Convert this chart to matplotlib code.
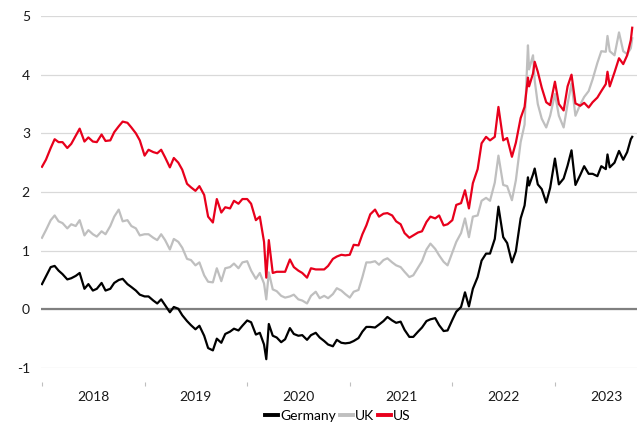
import matplotlib
matplotlib.use("Agg")
import matplotlib.pyplot as plt
import matplotlib.ticker as mticker
import pandas as pd

plt.rcParams['font.family'] = ['Lato', 'DejaVu Sans']
plt.rcParams['axes.unicode_minus'] = False

# ---------------- data (10-year government bond yields, %) ----------------
dates = [
    # 2018
    "2018-01-01", "2018-01-15", "2018-02-01", "2018-02-15", "2018-03-01", "2018-03-15",
    "2018-04-01", "2018-04-15", "2018-05-01", "2018-05-15", "2018-06-01", "2018-06-15",
    "2018-07-01", "2018-07-15", "2018-08-01", "2018-08-15", "2018-09-01", "2018-09-15",
    "2018-10-01", "2018-10-15", "2018-11-01", "2018-11-15", "2018-12-01", "2018-12-15",
    # 2019
    "2019-01-01", "2019-01-15", "2019-02-01", "2019-02-15", "2019-03-01", "2019-03-15",
    "2019-04-01", "2019-04-15", "2019-05-01", "2019-05-15", "2019-06-01", "2019-06-15",
    "2019-07-01", "2019-07-15", "2019-08-01", "2019-08-15", "2019-09-01", "2019-09-15",
    "2019-10-01", "2019-10-15", "2019-11-01", "2019-11-15", "2019-12-01", "2019-12-15",
    # 2020
    "2020-01-01", "2020-01-15", "2020-02-01", "2020-02-15", "2020-03-01", "2020-03-09",
    "2020-03-18", "2020-04-01", "2020-04-15", "2020-05-01", "2020-05-15", "2020-06-01",
    "2020-06-15", "2020-07-01", "2020-07-15", "2020-08-01", "2020-08-15", "2020-09-01",
    "2020-09-15", "2020-10-01", "2020-10-15", "2020-11-01", "2020-11-15", "2020-12-01",
    "2020-12-15",
    # 2021
    "2021-01-01", "2021-01-15", "2021-02-01", "2021-02-15", "2021-03-01", "2021-03-15",
    "2021-04-01", "2021-04-15", "2021-05-01", "2021-05-15", "2021-06-01", "2021-06-15",
    "2021-07-01", "2021-07-15", "2021-08-01", "2021-08-15", "2021-09-01", "2021-09-15",
    "2021-10-01", "2021-10-15", "2021-11-01", "2021-11-15", "2021-12-01", "2021-12-15",
    # 2022
    "2022-01-01", "2022-01-15", "2022-02-01", "2022-02-15", "2022-03-01", "2022-03-15",
    "2022-04-01", "2022-04-15", "2022-05-01", "2022-05-15", "2022-06-01", "2022-06-14",
    "2022-07-01", "2022-07-15", "2022-08-01", "2022-08-15", "2022-09-01", "2022-09-15",
    "2022-09-27", "2022-10-01", "2022-10-15", "2022-10-21", "2022-11-01", "2022-11-15",
    "2022-12-01", "2022-12-15",
    # 2023
    "2023-01-01", "2023-01-15", "2023-02-01", "2023-02-15", "2023-03-01", "2023-03-15",
    "2023-04-01", "2023-04-15", "2023-05-01", "2023-05-15", "2023-06-01", "2023-06-15",
    "2023-07-01", "2023-07-07", "2023-07-15", "2023-08-01", "2023-08-17", "2023-09-01",
    "2023-09-15", "2023-09-28", "2023-10-03",
]

germany = [
    0.43, 0.56, 0.72, 0.74, 0.66, 0.60, 0.51, 0.53, 0.57, 0.62, 0.35, 0.43,
    0.32, 0.35, 0.45, 0.32, 0.35, 0.45, 0.50, 0.52, 0.43, 0.38, 0.32, 0.25,
    0.22, 0.22, 0.15, 0.10, 0.17, 0.07, -0.05, 0.04, 0.01, -0.10, -0.20, -0.27,
    -0.34, -0.28, -0.45, -0.66, -0.70, -0.50, -0.57, -0.42, -0.38, -0.33, -0.36, -0.28,
    -0.19, -0.22, -0.43, -0.40, -0.60, -0.85, -0.25, -0.45, -0.48, -0.56, -0.51, -0.32,
    -0.42, -0.45, -0.44, -0.52, -0.44, -0.40, -0.48, -0.54, -0.60, -0.63, -0.52, -0.57,
    -0.58,
    -0.57, -0.54, -0.49, -0.38, -0.30, -0.30, -0.31, -0.26, -0.20, -0.13, -0.19, -0.23,
    -0.21, -0.35, -0.47, -0.47, -0.38, -0.31, -0.20, -0.17, -0.15, -0.27, -0.37, -0.36,
    -0.18, -0.04, 0.04, 0.29, 0.05, 0.35, 0.55, 0.83, 0.95, 0.95, 1.20, 1.75,
    1.23, 1.13, 0.80, 0.99, 1.55, 1.77, 2.25, 2.11, 2.30, 2.40, 2.13, 2.05,
    1.82, 2.07,
    2.57, 2.13, 2.23, 2.45, 2.71, 2.12, 2.29, 2.44, 2.31, 2.31, 2.27, 2.44,
    2.39, 2.64, 2.42, 2.50, 2.70, 2.55, 2.68, 2.90, 2.94,
]

uk = [
    1.22, 1.35, 1.52, 1.60, 1.50, 1.47, 1.38, 1.45, 1.42, 1.52, 1.26, 1.35,
    1.28, 1.24, 1.33, 1.28, 1.42, 1.58, 1.70, 1.50, 1.52, 1.42, 1.38, 1.26,
    1.28, 1.28, 1.22, 1.18, 1.28, 1.18, 1.02, 1.20, 1.15, 1.05, 0.86, 0.84,
    0.75, 0.80, 0.58, 0.47, 0.46, 0.70, 0.48, 0.70, 0.72, 0.78, 0.70, 0.80,
    0.82, 0.66, 0.52, 0.62, 0.44, 0.17, 0.63, 0.34, 0.31, 0.23, 0.20, 0.22,
    0.25, 0.17, 0.15, 0.10, 0.23, 0.30, 0.19, 0.23, 0.19, 0.26, 0.36, 0.32,
    0.26,
    0.20, 0.30, 0.33, 0.55, 0.80, 0.80, 0.82, 0.76, 0.84, 0.87, 0.80, 0.75,
    0.72, 0.64, 0.55, 0.58, 0.71, 0.82, 1.02, 1.12, 1.03, 0.92, 0.81, 0.75,
    0.97, 1.15, 1.30, 1.55, 1.23, 1.58, 1.60, 1.85, 1.90, 1.85, 2.16, 2.62,
    2.12, 2.10, 1.86, 2.20, 2.85, 3.15, 4.50, 4.09, 4.33, 3.90, 3.50, 3.25,
    3.10, 3.30,
    3.67, 3.30, 3.10, 3.50, 3.85, 3.30, 3.49, 3.62, 3.72, 3.92, 4.20, 4.40,
    4.39, 4.66, 4.40, 4.33, 4.72, 4.40, 4.35, 4.45, 4.62,
]

us = [
    2.43, 2.55, 2.75, 2.90, 2.85, 2.85, 2.75, 2.82, 2.96, 3.08, 2.86, 2.93,
    2.86, 2.85, 2.98, 2.87, 2.88, 3.02, 3.12, 3.20, 3.18, 3.10, 3.00, 2.88,
    2.62, 2.72, 2.68, 2.66, 2.72, 2.59, 2.42, 2.58, 2.50, 2.38, 2.14, 2.08,
    2.02, 2.10, 1.95, 1.58, 1.48, 1.88, 1.65, 1.74, 1.72, 1.85, 1.80, 1.88,
    1.88, 1.80, 1.52, 1.58, 1.15, 0.54, 1.18, 0.62, 0.64, 0.64, 0.64, 0.85,
    0.72, 0.66, 0.62, 0.54, 0.70, 0.68, 0.68, 0.68, 0.74, 0.86, 0.90, 0.93,
    0.92,
    0.93, 1.10, 1.09, 1.28, 1.43, 1.62, 1.70, 1.58, 1.63, 1.64, 1.60, 1.50,
    1.45, 1.30, 1.22, 1.26, 1.31, 1.33, 1.49, 1.58, 1.55, 1.60, 1.43, 1.45,
    1.52, 1.78, 1.81, 2.03, 1.72, 2.15, 2.39, 2.83, 2.94, 2.88, 2.94, 3.45,
    2.88, 2.92, 2.60, 2.84, 3.26, 3.45, 3.95, 3.80, 4.02, 4.22, 4.05, 3.78,
    3.53, 3.48,
    3.88, 3.50, 3.39, 3.80, 4.00, 3.51, 3.47, 3.52, 3.44, 3.53, 3.61, 3.72,
    3.84, 4.05, 3.80, 4.04, 4.28, 4.18, 4.33, 4.59, 4.80,
]

years = [2018, 2019, 2020, 2021, 2022, 2023]
series_names = ["Germany", "UK", "US"]
series_colors = ["#000000", "#bfbfbf", "#e8001c"]

# ---------------- plotting ----------------
d = pd.to_datetime(dates)
x = d.year + (d.dayofyear - 1) / 365.0

W, H = 637, 423
fig = plt.figure(figsize=(W / 100, H / 100), dpi=100)
ax = fig.add_axes([41 / W, 55 / H, 596 / W, 352 / H])

for name, vals, col in zip(series_names, [germany, uk, us], series_colors):
    ax.plot(x, vals, color=col, lw=1.6, label=name, solid_joinstyle='round')

ax.axhline(0, color="#808080", lw=1.6, zorder=1.5)

ax.set_ylim(-1, 5)
ax.set_yticks(range(-1, 6))
ax.yaxis.grid(True, color="#d9d9d9", lw=0.9)
ax.set_axisbelow(True)
ax.tick_params(axis="y", length=0, pad=8, labelsize=10, labelcolor="#1a1a1a")

ax.set_xlim(2018 - 1 / 102.6, 2023.80)
ax.set_xticks(years)
ax.xaxis.set_major_formatter(mticker.NullFormatter())
ax.set_xticks([y + 0.5 for y in years], minor=True)
ax.set_xticklabels([str(y) for y in years], minor=True)
ax.tick_params(axis="x", which="major", length=3, width=0.8, color="#bfbfbf", direction="out")
ax.tick_params(axis="x", which="minor", length=0, pad=6.5, labelsize=10, labelcolor="#1a1a1a")

for s in ["top", "right", "left"]:
    ax.spines[s].set_visible(False)
ax.spines["bottom"].set_position(("outward", 10))
ax.spines["bottom"].set_visible(False)

leg = fig.legend(loc="center", bbox_to_anchor=(338 / W, 1 - 416 / H), ncol=3,
                 frameon=False, handlelength=0.95, handletextpad=0.15,
                 columnspacing=0.25, fontsize=10)
for h in leg.get_lines():
    h.set_linewidth(2.8)

fig.savefig("out.png", dpi=100)
